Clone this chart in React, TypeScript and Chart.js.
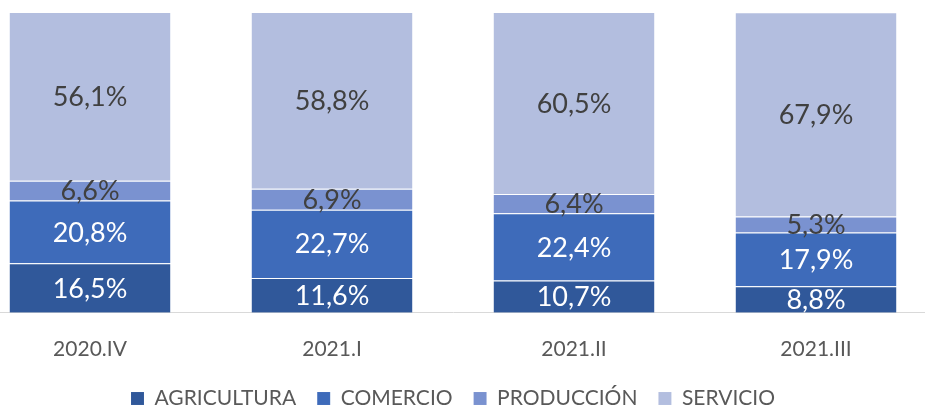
import React, { useEffect, useRef } from "react";
import { Chart, registerables } from "chart.js";

Chart.register(...registerables);

const categories = ["2020.IV", "2021.I", "2021.II", "2021.III"];
const agricultura = [16.5, 11.6, 10.7, 8.8];
const comercio = [20.8, 22.7, 22.4, 17.9];
const produccion = [6.6, 6.9, 6.4, 5.3];
const servicio = [56.1, 58.8, 60.5, 67.9];

const seriesNames = ["AGRICULTURA", "COMERCIO", "PRODUCCIÓN", "SERVICIO"];
const seriesColors = ["#30589A", "#3E6BBA", "#7A92D0", "#B3BEDF"];
const labelColors = ["#FFFFFF", "#FFFFFF", "#404040", "#404040"];

const FONT = "Lato, 'Open Sans', sans-serif";

const labelPlugin = {
  id: "segLabels",
  afterDatasetsDraw(chart: any) {
    const ctx = chart.ctx;
    const area = chart.chartArea;
    ctx.save();
    ctx.beginPath();
    ctx.rect(area.left, area.top, area.right - area.left, area.bottom - area.top);
    ctx.clip();
    ctx.font = `27px ${FONT}`;
    ctx.textAlign = "center";
    ctx.textBaseline = "middle";
    chart.data.datasets.forEach((ds: any, di: number) => {
      const meta = chart.getDatasetMeta(di);
      meta.data.forEach((el: any, i: number) => {
        const v = ds.data[i];
        const cy = (el.y + el.base) / 2;
        ctx.fillStyle = labelColors[di];
        ctx.fillText(v.toFixed(1).replace(".", ",") + "%", el.x, cy + 1);
      });
    });
    ctx.restore();
  },
};

export default function App() {
  const ref = useRef<HTMLCanvasElement>(null);
  useEffect(() => {
    document.body.style.margin = "0";
    const values = [agricultura, comercio, produccion, servicio];
    const chart = new Chart(ref.current!, {
      type: "bar",
      data: {
        labels: categories,
        datasets: values.map((d, i) => ({
          label: seriesNames[i],
          data: d,
          backgroundColor: seriesColors[i],
          borderColor: "rgba(255,255,255,0.25)",
          borderWidth: { top: 1, bottom: 0, left: 0, right: 0 },
          borderSkipped: false,
          categoryPercentage: 1,
          barPercentage: 0.665,
        })),
      },
      options: {
        responsive: false,
        animation: false,
        layout: { padding: { top: 12, left: 0, right: 0, bottom: 0 } },
        plugins: {
          legend: {
            position: "bottom",
            labels: {
              boxWidth: 13,
              boxHeight: 13,
              padding: 21,
              color: "#595959",
              font: { family: FONT, size: 21 },
            },
          },
          tooltip: { enabled: false },
        },
        scales: {
          x: {
            stacked: true,
            grid: { display: false, drawTicks: false },
            border: { color: "#D9D9D9", width: 1 },
            ticks: {
              color: "#595959",
              font: { family: FONT, size: 21 },
              padding: 24,
            },
            afterFit: (scale: any) => {
              scale.height -= 19;
            },
          },
          y: {
            stacked: true,
            display: false,
            min: 0,
            max: 100,
          },
        },
      },
      plugins: [labelPlugin],
    });
    return () => chart.destroy();
  }, []);
  return (
    <div style={{ position: "relative", width: 925, height: 407, overflow: "hidden" }}>
      <canvas
        ref={ref}
        width={968}
        height={419}
        style={{ position: "absolute", left: -31.5, top: 0, width: 968, height: 419 }}
      />
    </div>
  );
}
